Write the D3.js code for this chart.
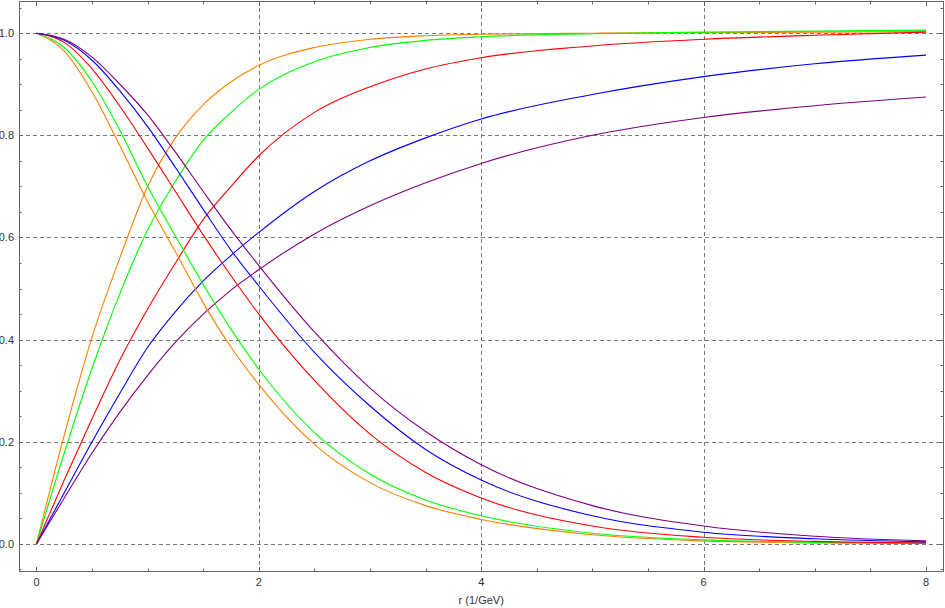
<!DOCTYPE html>
<html>
<head>
<meta charset="utf-8">
<script src="https://cdn.jsdelivr.net/npm/d3@7"></script>
<style>
  html, body { margin: 0; padding: 0; background: #fff; }
  svg { display: block; font-family: "Liberation Sans", Arial, sans-serif; }
</style>
</head>
<body>
<svg id="chart" width="945" height="608"></svg>
<script>
// ---------- data ----------
const rValues = [0, 0.25, 0.5, 0.75, 1, 1.25, 1.5, 1.75, 2, 2.5, 3, 3.5, 4, 5, 6, 7, 8];

const risingOrange = [0, 0.213, 0.405, 0.56, 0.70, 0.795, 0.86, 0.905, 0.937, 0.972, 0.988, 0.995, 0.998, 1.0, 1.001, 1.002, 1.003];
const risingGreen  = [0, 0.178, 0.344, 0.49, 0.615, 0.71, 0.79, 0.845, 0.89, 0.944, 0.972, 0.986, 0.993, 0.999, 1.002, 1.004, 1.006];
const risingRed    = [0, 0.125, 0.245, 0.36, 0.46, 0.55, 0.635, 0.70, 0.76, 0.845, 0.895, 0.93, 0.952, 0.975, 0.988, 0.996, 1.002];
const risingBlue   = [0, 0.10, 0.20, 0.295, 0.385, 0.455, 0.515, 0.565, 0.61, 0.69, 0.75, 0.795, 0.832, 0.88, 0.915, 0.94, 0.957];
const risingPurple = [0, 0.09, 0.178, 0.258, 0.33, 0.395, 0.45, 0.497, 0.537, 0.607, 0.662, 0.707, 0.745, 0.80, 0.835, 0.858, 0.875];

const fallingOrange = [1, 0.965, 0.885, 0.78, 0.67, 0.572, 0.472, 0.385, 0.312, 0.195, 0.12, 0.075, 0.048, 0.018, 0.006, 0.002, 0.001];
const fallingGreen  = [1, 0.972, 0.905, 0.81, 0.70, 0.603, 0.508, 0.42, 0.342, 0.218, 0.137, 0.086, 0.055, 0.021, 0.008, 0.003, 0.001];
const fallingRed    = [1, 0.982, 0.93, 0.857, 0.775, 0.69, 0.605, 0.525, 0.45, 0.32, 0.215, 0.14, 0.09, 0.035, 0.013, 0.005, 0.002];
const fallingBlue   = [1, 0.986, 0.947, 0.887, 0.817, 0.737, 0.655, 0.575, 0.505, 0.375, 0.27, 0.185, 0.125, 0.055, 0.023, 0.01, 0.004];
const fallingPurple = [1, 0.988, 0.953, 0.90, 0.84, 0.767, 0.69, 0.615, 0.545, 0.415, 0.305, 0.22, 0.155, 0.075, 0.035, 0.015, 0.006];

const seriesColors = ["#ff8000", "#00ff00", "#ff0000", "#0000ff", "#800080"];
const risingSeries = [risingOrange, risingGreen, risingRed, risingBlue, risingPurple];
const fallingSeries = [fallingOrange, fallingGreen, fallingRed, fallingBlue, fallingPurple];

const xMajorTicks = [0, 2, 4, 6, 8];
const xMinorTicks = d3.range(0, 8.01, 0.5);
const yMajorTicks = [0, 0.2, 0.4, 0.6, 0.8, 1.0];
const yMinorTicks = d3.range(-0.05, 1.051, 0.05);
const xGrid = [2, 4, 6];
const yGrid = [0, 0.2, 0.4, 0.6, 0.8, 1.0];
const xAxisLabel = "r (1/GeV)";

// ---------- layout ----------
(function draw() {
  const svg = d3.select("#chart");
  const pL = 19, pR = 943, pT = 1, pB = 571;
  const x = d3.scaleLinear().domain([-0.157, 8.153]).range([pL, pR]);
  const y = d3.scaleLinear().domain([-0.053, 1.063]).range([pB, pT]);

  const frameColor = "#666";
  const gridColor = "#7a7a7a";

  // grid
  const g = svg.append("g");
  g.selectAll(".hg").data(yGrid).join("line")
    .attr("x1", pL).attr("x2", pR)
    .attr("y1", d => Math.round(y(d)) + 0.5).attr("y2", d => Math.round(y(d)) + 0.5)
    .attr("stroke", gridColor).attr("stroke-width", 1).attr("stroke-dasharray", "4,3");
  g.selectAll(".vg").data(xGrid).join("line")
    .attr("y1", pT).attr("y2", pB)
    .attr("x1", d => Math.round(x(d)) + 0.5).attr("x2", d => Math.round(x(d)) + 0.5)
    .attr("stroke", gridColor).attr("stroke-width", 1).attr("stroke-dasharray", "4,3");

  // curves
  const line = d3.line()
    .x((d, i) => x(rValues[i]))
    .y(d => y(d))
    .curve(d3.curveMonotoneX);

  const curves = svg.append("g").attr("fill", "none").attr("stroke-width", 1.1);
  risingSeries.forEach((s, i) => {
    curves.append("path").attr("d", line(s)).attr("stroke", seriesColors[i]);
  });
  fallingSeries.forEach((s, i) => {
    curves.append("path").attr("d", line(s)).attr("stroke", seriesColors[i]);
  });

  // frame
  const frame = svg.append("g");
  frame.append("rect")
    .attr("x", pL + 0.5).attr("y", pT + 0.5)
    .attr("width", pR - pL).attr("height", pB - pT)
    .attr("fill", "none").attr("stroke", frameColor).attr("stroke-width", 1);

  const xTickData = xMinorTicks.map(v => ({ v, major: xMajorTicks.some(m => Math.abs(m - v) < 1e-9) }));
  frame.selectAll(".xtb").data(xTickData).join("line")
    .attr("x1", d => Math.round(x(d.v)) + 0.5).attr("x2", d => Math.round(x(d.v)) + 0.5)
    .attr("y1", pB).attr("y2", d => pB - (d.major ? 4 : 2.5))
    .attr("stroke", frameColor);
  frame.selectAll(".xtt").data(xTickData).join("line")
    .attr("x1", d => Math.round(x(d.v)) + 0.5).attr("x2", d => Math.round(x(d.v)) + 0.5)
    .attr("y1", pT + 1).attr("y2", d => pT + 1 + (d.major ? 4 : 2.5))
    .attr("stroke", frameColor);

  const yTickData = yMinorTicks.map(v => ({ v, major: yMajorTicks.some(m => Math.abs(m - v) < 1e-9) }));
  frame.selectAll(".ytl").data(yTickData).join("line")
    .attr("y1", d => Math.round(y(d.v)) + 0.5).attr("y2", d => Math.round(y(d.v)) + 0.5)
    .attr("x1", pL).attr("x2", d => pL + (d.major ? 4 : 2.5))
    .attr("stroke", frameColor);
  frame.selectAll(".ytr").data(yTickData).join("line")
    .attr("y1", d => Math.round(y(d.v)) + 0.5).attr("y2", d => Math.round(y(d.v)) + 0.5)
    .attr("x1", pR).attr("x2", d => pR - (d.major ? 4 : 2.5))
    .attr("stroke", frameColor);

  // tick labels
  svg.append("g").selectAll("text").data(xMajorTicks).join("text")
    .attr("x", d => x(d)).attr("y", pB + 15)
    .attr("text-anchor", "middle").attr("font-size", 11).attr("fill", "#333")
    .text(d => d3.format("d")(d));
  svg.append("g").selectAll("text").data(yMajorTicks).join("text")
    .attr("x", pL - 5).attr("y", d => y(d) + 4)
    .attr("text-anchor", "end").attr("font-size", 11).attr("fill", "#333")
    .text(d => d3.format(".1f")(d));

  // axis label
  svg.append("text")
    .attr("x", x(4)).attr("y", 604)
    .attr("text-anchor", "middle").attr("font-size", 11).attr("fill", "#333")
    .text(xAxisLabel);
})();
</script>
</body>
</html>
